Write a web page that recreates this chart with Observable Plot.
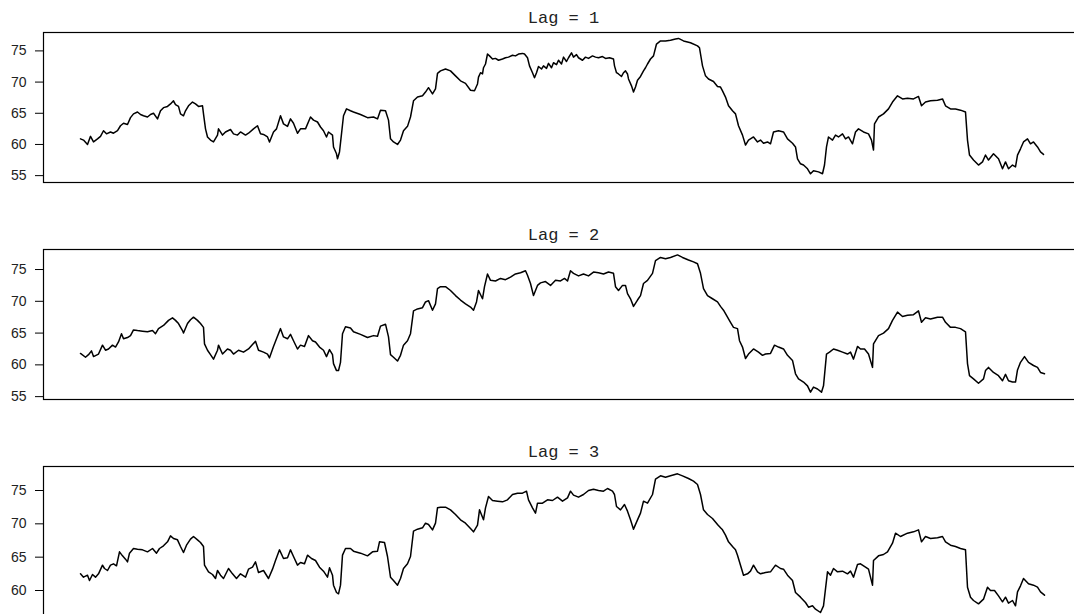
<!DOCTYPE html>
<html><head><meta charset="utf-8">
<script src="https://cdn.jsdelivr.net/npm/d3@7"></script>
<script src="https://cdn.jsdelivr.net/npm/@observablehq/plot@0.6"></script>
<style>
html,body{margin:0;padding:0;background:#fff;overflow:hidden;width:1074px;height:614px}
#chart{width:1074px;overflow:hidden}
#chart svg{display:block;max-width:none !important;width:1084px !important;height:217px !important}
</style></head><body><div id="chart"></div>
<script>
const lagTitles = ["Lag = 1", "Lag = 2", "Lag = 3"];
const yTicks = [55, 60, 65, 70, 75];

const lag1T = [0,3,7,10,13,17,20,23,26,30,33,37,40,43,47,50,53,57,60,63,67,70,73,77,80,83,87,90,93,95,98,100,103,105,108,112,115,118,122,123,125,127,130,133,137,138,142,145,150,153,157,160,165,168,173,177,180,183,187,189,193,196,200,203,207,210,213,217,220,225,230,233,237,240,243,246,248,252,253,256,257,259,261,263,266,270,
273,280,287,293,297,300,305,308,310,313,317,320,323,327,330,333,337,342,345,348,352,355,357,360,365,370,375,380,385,
390,394,397,398,400,402,403,405,407,409,412,415,418,422,425,428,432,435,438,442,444,447,449,452,454,456,458,461,463,466,468,471,473,476,478,481,483,486,488,491,493,496,498,502,505,508,512,515,518,522,525,529,533,534,536,538,541,543,545,547,548,551,553,555,557,560,563,565,567,570,573,
576,580,585,590,595,598,603,610,617,619,622,625,628,633,637,640,
642,645,648,652,655,658,662,665,668,673,677,680,683,687,690,693,698,703,707,712,715,717,720,723,727,730,733,738,742,744,746,748,752,755,758,762,765,768,772,775,778,783,788,791,793,794,798,803,808,812,817,822,827,833,838,841,845,850,857,862,865,870,875,880,885,887,889,893,898,902,905,908,913,918,922,925,928,932,935,937,940,943,947,950,953,957,960,963];
const lag1V = [60.9,60.7,60.0,61.3,60.4,60.9,61.3,62.2,61.7,62.0,61.8,62.2,63.0,63.4,63.2,64.3,64.9,65.2,64.8,64.6,64.4,64.8,65.0,64.1,65.4,65.9,66.1,66.5,67.0,66.4,66.1,64.9,64.6,65.4,66.2,66.8,66.5,66.1,66.2,64.9,62.5,61.2,60.7,60.4,61.5,62.5,61.5,62.0,62.4,61.7,61.5,62.0,61.5,61.8,62.5,63.0,61.7,61.6,61.2,60.4,62.0,62.5,64.6,63.3,62.9,64.1,63.4,61.8,62.5,62.5,64.4,63.9,63.6,62.8,62.2,61.2,62.0,61.5,59.6,58.5,57.7,58.8,61.7,64.6,65.7,65.4,
65.2,64.8,64.3,64.4,64.1,65.5,65.4,63.9,60.9,60.4,60.0,60.7,62.2,62.9,64.4,67.0,67.6,67.8,68.4,69.1,68.1,68.9,71.4,71.8,72.1,71.8,71.0,70.2,69.8,
68.7,68.6,69.7,70.8,71.5,71.3,72.3,72.9,74.5,74.2,73.7,73.8,73.5,73.7,73.9,74.0,74.3,74.2,74.5,74.6,74.5,73.9,72.6,71.5,70.7,71.5,72.5,72.1,72.6,72.2,73.0,72.3,73.1,72.8,73.5,72.9,74.0,73.3,73.9,74.7,74.0,74.4,73.9,73.5,74.0,73.8,74.2,74.0,73.9,74.1,73.8,73.9,73.7,72.6,71.5,71.3,70.9,71.5,71.8,71.3,70.5,69.4,68.4,69.2,70.3,70.9,71.8,72.3,72.9,73.7,74.2,
76.1,76.6,76.6,76.7,76.9,77.0,76.6,76.3,75.8,75.5,72.6,71.0,70.5,70.1,69.3,69.2,
68.6,67.6,66.2,65.4,64.9,63.0,61.5,59.9,60.7,61.2,60.4,60.7,60.2,60.4,60.1,62.0,62.2,62.0,60.9,60.2,59.6,57.7,56.9,56.7,56.1,55.3,55.8,55.6,55.3,56.7,59.6,61.2,60.7,61.5,61.2,61.7,60.9,61.2,60.1,62.0,62.5,62.0,61.7,60.7,59.1,63.3,64.4,64.9,65.7,66.8,67.8,67.3,67.4,67.3,67.7,66.2,66.8,67.0,67.1,67.3,66.2,65.7,65.7,65.5,65.2,60.7,58.3,57.5,56.7,57.2,58.3,57.5,58.5,57.7,56.1,57.2,56.1,56.7,56.4,58.3,59.3,60.4,60.9,60.1,60.4,59.6,58.8,58.4];

const lag2T = [0,5,8,11,13,18,22,25,28,32,35,38,41,43,47,50,53,57,62,67,72,75,78,83,88,92,95,98,102,103,107,110,113,117,120,123,124,127,130,133,137,138,142,147,150,153,158,163,168,172,175,178,183,187,189,193,196,200,203,207,210,213,217,220,224,228,232,235,239,243,246,249,252,253,256,258,260,262,265,270,
273,280,287,293,297,300,305,308,310,313,317,320,323,327,330,333,337,342,345,348,352,355,357,360,365,370,375,380,385,390,393,396,398,402,404,407,410,415,420,425,430,435,440,445,447,450,453,457,460,465,470,475,480,484,487,490,493,498,503,508,513,518,523,528,533,535,538,542,545,547,550,553,557,560,563,567,572,575,580,585,590,597,602,608,613,617,620,623,627,632,637,640,
643,647,650,653,657,659,662,665,668,673,678,682,685,690,694,698,703,707,712,715,718,723,727,730,733,737,741,743,746,749,753,757,762,767,770,773,777,780,784,788,792,793,798,803,808,812,817,822,827,833,838,841,845,850,857,862,865,870,875,880,885,887,889,893,898,903,905,908,913,918,922,925,928,932,935,937,940,944,948,953,957,960,964];
const lag2V = [61.8,61.2,61.6,62.2,61.3,61.7,63.1,62.3,62.5,63.1,62.8,63.6,64.9,64.1,64.3,64.6,65.5,65.4,65.3,65.2,65.4,64.9,65.7,66.2,67.0,67.4,67.0,66.5,65.4,65.0,66.5,67.1,67.5,67.0,66.5,65.9,63.3,62.3,61.6,60.9,62.3,63.1,61.7,62.5,62.3,61.7,62.3,62.0,62.5,63.2,63.7,62.3,62.0,61.7,61.1,62.9,64.1,65.7,64.4,64.1,64.8,63.8,62.5,63.1,62.9,64.6,63.8,63.6,62.8,62.3,61.3,62.4,61.6,60.2,59.1,59.1,60.4,64.9,66.0,65.8,
65.2,64.8,64.3,64.6,64.5,66.1,66.4,64.4,61.6,61.2,60.6,61.5,63.1,63.8,64.9,68.5,68.8,69.0,69.9,70.1,68.6,69.6,72.0,72.3,72.3,71.7,70.9,70.2,69.6,69.1,68.6,69.9,71.7,70.4,72.3,74.3,73.3,73.2,73.6,73.4,73.8,74.3,74.5,74.8,74.1,72.8,70.9,72.5,72.9,73.1,72.5,73.3,73.2,73.6,73.2,74.8,74.4,74.0,74.3,74.0,74.6,74.5,74.3,74.6,74.4,72.3,71.7,72.5,72.5,71.2,70.4,69.2,70.2,70.9,72.8,73.3,74.4,76.4,76.9,76.7,76.9,77.3,76.9,76.5,76.2,75.9,74.4,72.0,70.9,70.4,69.9,69.2,
68.6,67.5,66.7,65.9,65.7,63.8,62.8,61.0,61.7,62.5,62.0,61.5,61.7,61.8,63.1,62.8,62.5,61.5,60.7,58.6,57.8,57.3,56.7,55.7,56.5,56.2,55.7,56.7,61.7,62.0,62.5,62.3,62.0,61.7,62.0,60.9,62.9,62.5,62.5,61.7,59.6,63.3,64.6,65.0,65.7,67.0,68.3,67.6,67.8,67.9,68.5,66.7,67.4,67.2,67.5,67.5,66.7,65.9,65.9,65.7,65.2,60.2,58.3,57.8,57.1,57.8,59.1,59.6,58.8,58.3,57.5,58.5,57.5,57.3,57.3,59.2,60.4,61.3,60.4,59.9,59.6,58.8,58.6];

const lag3T = [0,3,7,9,12,15,18,22,24,27,30,33,36,39,42,45,47,49,53,57,62,67,72,76,79,83,87,90,93,97,100,103,106,110,113,117,120,123,124,128,132,135,137,140,143,148,152,156,160,165,168,172,175,178,183,188,192,195,199,203,207,210,213,217,220,224,227,231,235,239,243,247,249,252,253,256,258,260,262,265,270,
273,280,287,292,297,299,304,307,310,313,317,320,323,327,330,333,337,342,345,348,352,355,357,360,365,370,375,380,385,390,393,397,399,403,405,408,412,417,422,427,432,437,442,446,448,452,455,457,462,467,472,477,482,487,490,493,498,503,508,513,518,523,527,532,534,536,540,544,547,550,553,557,560,563,567,572,575,580,585,590,597,602,608,613,617,620,623,627,632,637,640,
642,645,648,652,655,657,660,663,667,670,673,677,680,685,690,695,700,703,707,712,715,720,725,728,732,735,740,743,747,750,753,757,762,767,770,773,777,780,785,788,792,793,798,803,807,812,815,820,827,833,838,841,845,850,857,862,865,870,875,880,885,887,890,893,898,903,907,910,914,918,922,925,928,932,935,937,940,943,948,953,957,960,964];
const lag3V = [62.5,62.0,62.3,61.5,62.4,62.0,62.5,63.8,63.3,63.0,63.8,64.0,63.7,65.8,65.2,64.7,64.3,65.6,66.3,66.2,66.1,65.8,66.3,65.6,66.3,66.7,67.3,68.2,67.8,67.6,66.6,65.7,66.8,67.7,68.1,67.6,67.2,66.6,63.8,62.8,62.4,61.8,63.0,62.3,61.8,63.3,62.5,61.8,62.5,62.0,63.2,63.5,64.3,62.7,63.0,61.8,63.2,64.5,66.1,64.8,64.9,66.1,65.1,63.8,64.2,64.0,65.3,64.8,64.5,63.5,62.9,62.0,63.4,62.3,60.8,59.7,59.5,60.8,65.3,66.3,66.3,
65.9,65.6,65.2,65.8,65.9,67.3,67.2,65.1,62.0,61.5,60.8,61.8,63.3,64.0,65.1,68.9,69.2,69.4,70.1,69.9,69.1,70.1,72.4,72.5,72.5,72.1,71.4,70.6,70.1,69.3,68.8,69.8,72.1,70.6,72.4,74.1,73.5,73.4,73.3,73.6,74.4,74.6,74.6,74.9,73.6,72.4,71.6,73.1,73.1,73.6,73.5,74.0,73.4,73.9,74.9,74.3,74.0,74.4,75.0,75.2,75.0,74.9,75.3,74.9,74.4,72.6,72.1,72.9,71.9,70.6,69.2,70.6,71.6,73.4,73.1,74.4,76.7,77.2,77.0,77.2,77.5,77.2,76.8,76.4,75.9,74.4,72.1,71.4,70.8,69.9,69.4,
69.1,68.3,67.3,66.6,66.1,65.3,63.8,62.3,62.5,62.9,63.8,62.8,62.5,62.7,62.8,63.8,63.3,63.2,62.3,61.5,59.7,59.0,58.2,57.5,57.7,57.2,56.7,57.7,62.8,62.3,63.3,62.8,62.9,62.5,62.9,62.0,63.9,64.0,63.5,63.2,60.8,64.5,65.2,65.4,65.8,67.1,68.6,68.1,68.6,68.8,69.1,67.3,68.1,67.8,67.9,68.1,67.3,66.8,66.6,66.3,66.1,60.5,59.0,58.5,58.0,58.7,60.5,60.0,60.0,59.2,58.3,59.0,58.1,58.5,57.7,59.8,60.7,61.8,61.0,60.8,60.5,59.8,59.3];

// y-axis limits of each panel (as in the original, slightly padded)
const yDomains = [[53.9, 77.95], [54.55, 78.15], [56.1, 78.6]];

const series = [[lag1T, lag1V], [lag2T, lag2V], [lag3T, lag3V]];
const root = document.getElementById("chart");

series.forEach(([T, V], i) => {
  const data = T.map((t, j) => ({t, v: V[j]}));
  const [lo, hi] = yDomains[i];
  const p = Plot.plot({
    width: 1084, height: 217,
    marginLeft: 43, marginRight: 1, marginTop: 32, marginBottom: 35,
    style: {background: "white", color: "#000", maxWidth: "none", fontFamily: "'Liberation Sans', Arial, sans-serif"},
    x: {domain: [-37, 1003], axis: null},
    y: {domain: yDomains[i], axis: null},
    marks: [
      Plot.frame({stroke: "#000", strokeWidth: 1.2}),
      Plot.axisY({ticks: yTicks.filter(d => d >= lo && d <= hi), label: null, tickSize: 8, tickPadding: 9,
        fontSize: 14, tickFormat: d => d, fill: "#222"}),
      Plot.lineY(data, {x: "t", y: "v", stroke: "#000", strokeWidth: 1.5}),
      Plot.text([lagTitles[i]], {text: d => d, frameAnchor: "top", dy: -10, lineAnchor: "bottom",
        fontFamily: "'Courier New', 'Liberation Mono', monospace", fontSize: 17, fill: "#222"})
    ]
  });
  root.appendChild(p);
});
</script></body></html>
